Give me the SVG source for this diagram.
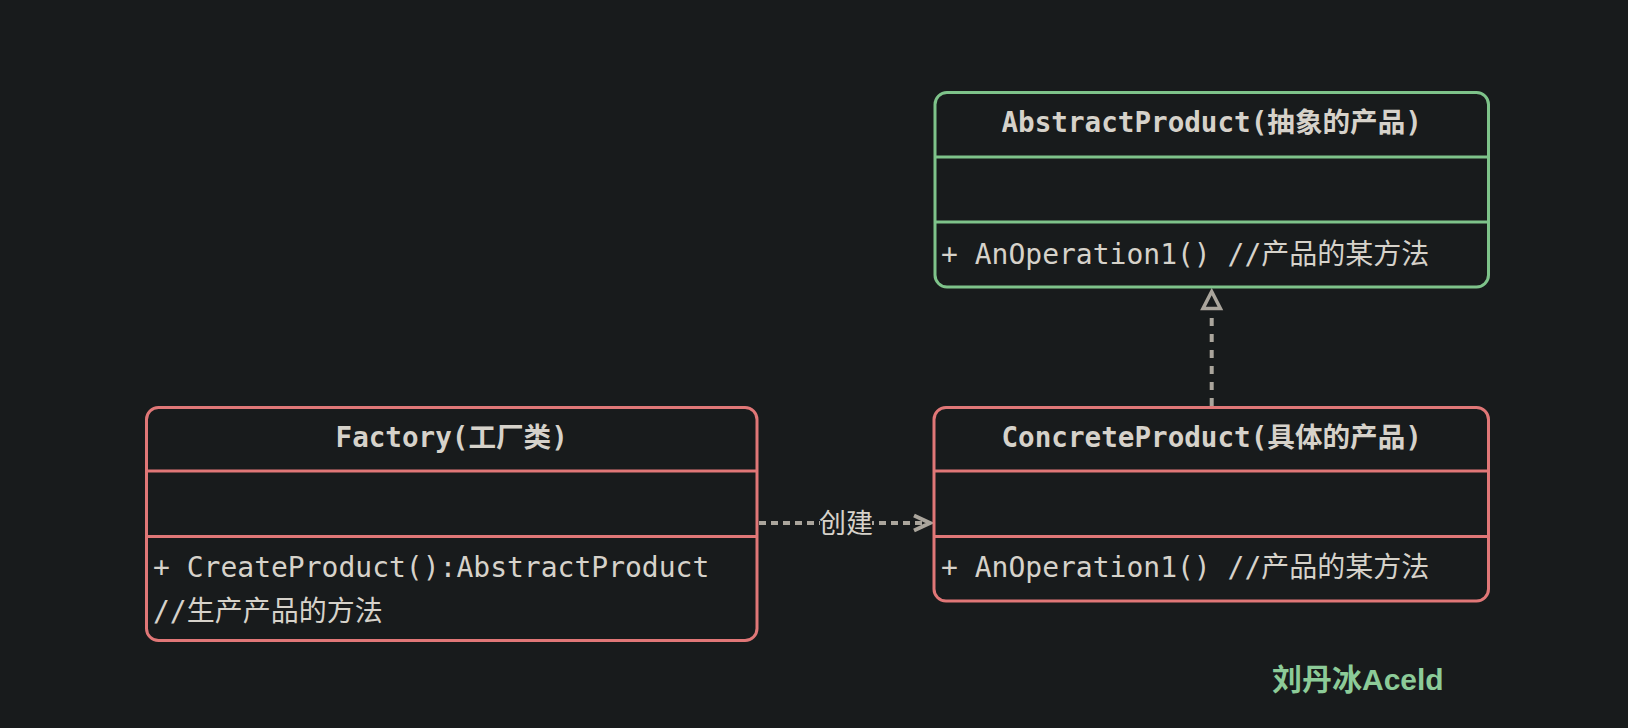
<svg xmlns="http://www.w3.org/2000/svg" width="1628" height="728" viewBox="0 0 1628 728">
<style>
.box{fill:#181b1c;stroke-width:3}
.green{stroke:#7ec38a}
.red{stroke:#e07777}
.div{stroke-width:3}
.title{font-family:"DejaVu Sans Mono","Noto Sans CJK SC",monospace;font-weight:bold;font-size:27.6px;fill:#d6d2ca;text-anchor:middle}
.mem{font-family:"DejaVu Sans Mono","Noto Sans CJK SC",monospace;font-size:28px;fill:#d6d2ca}
.conn{stroke:#aaa59c;stroke-width:4;fill:none}
.lbl{font-family:"Noto Sans CJK SC",sans-serif;font-size:27px;fill:#d6d2ca;text-anchor:middle}
</style>
<rect x="0" y="0" width="1628" height="728" fill="#181b1c"/>
<g id="connectors">
<line class="conn" x1="1211.7" y1="406" x2="1211.7" y2="311" stroke-dasharray="8 8"/>
<polygon points="1211.7,291.5 1203,308.5 1220.4,308.5" fill="#181b1c" stroke="#aaa59c" stroke-width="3.5" stroke-linejoin="miter"/>
<line class="conn" x1="759" y1="523" x2="928" y2="523" stroke-dasharray="7 5"/>
<rect x="820" y="506" width="52" height="34" fill="#181b1c"/>
<text class="lbl" x="846" y="533">创建</text>
<polyline class="conn" points="914,515.5 930,523 914,530.5" stroke-linejoin="miter"/>
</g>
<g id="abstract-product">
<rect class="box green" x="935" y="92.5" width="553.5" height="194.5" rx="12"/>
<line class="div green" x1="935" y1="157" x2="1488.5" y2="157"/>
<line class="div green" x1="935" y1="222" x2="1488.5" y2="222"/>
<text class="title" x="1211.7" y="132">AbstractProduct(抽象的产品)</text>
<text class="mem" x="941" y="264">+ AnOperation1() //产品的某方法</text>
</g>
<g id="concrete-product">
<rect class="box red" x="934" y="407.5" width="554.5" height="193.5" rx="12"/>
<line class="div red" x1="934" y1="471" x2="1488.5" y2="471"/>
<line class="div red" x1="934" y1="536.5" x2="1488.5" y2="536.5"/>
<text class="title" x="1211.7" y="447">ConcreteProduct(具体的产品)</text>
<text class="mem" x="941" y="577">+ AnOperation1() //产品的某方法</text>
</g>
<g id="factory">
<rect class="box red" x="146.5" y="407.5" width="610.5" height="233" rx="12"/>
<line class="div red" x1="146.5" y1="471" x2="757" y2="471"/>
<line class="div red" x1="146.5" y1="536.5" x2="757" y2="536.5"/>
<text class="title" x="451.7" y="447">Factory(工厂类)</text>
<text class="mem" x="153" y="577">+ CreateProduct():AbstractProduct</text>
<text class="mem" x="153" y="621">//生产产品的方法</text>
</g>
<g id="watermark">
<text x="1272" y="690" font-family="'Liberation Sans','Noto Sans CJK SC',sans-serif" font-weight="bold" font-size="30" fill="#8ccb98">刘丹冰Aceld</text>
</g>
</svg>
